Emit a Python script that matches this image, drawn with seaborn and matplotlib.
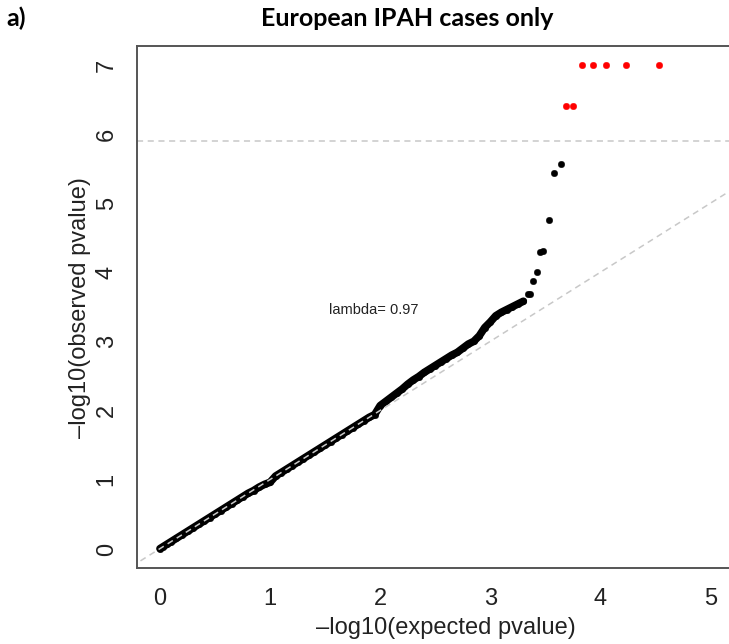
import matplotlib
matplotlib.use("Agg")
import matplotlib.pyplot as plt
import seaborn as sns
import numpy as np
import pandas as pd

# QQ plot values (expected vs observed -log10 p)
expected = [0.00, 0.03, 0.06, 0.10, 0.15, 0.20, 0.25, 0.30, 0.35, 0.40,
            0.45, 0.50, 0.55, 0.60, 0.65, 0.70, 0.75, 0.80, 0.85, 0.90,
            0.95, 1.00, 1.05, 1.10, 1.15, 1.20, 1.25, 1.30, 1.35, 1.40,
            1.45, 1.50, 1.55, 1.60, 1.65, 1.70, 1.75, 1.80, 1.85, 1.90,
            1.95, 2.00, 2.05, 2.10, 2.15, 2.20, 2.25, 2.30, 2.35, 2.40,
            2.45, 2.50, 2.55, 2.60, 2.65, 2.70, 2.75, 2.80, 2.85, 2.90,
            2.95, 3.00, 3.05, 3.10, 3.15, 3.20, 3.25, 3.30, 3.34, 3.36,
            3.39, 3.42, 3.45, 3.48, 3.53, 3.58, 3.64]
observed = [0.00, 0.03, 0.06, 0.10, 0.15, 0.20, 0.25, 0.30, 0.35, 0.40,
            0.45, 0.50, 0.55, 0.60, 0.65, 0.70, 0.75, 0.80, 0.84, 0.89,
            0.93, 0.96, 1.05, 1.10, 1.15, 1.20, 1.25, 1.30, 1.35, 1.40,
            1.45, 1.50, 1.55, 1.60, 1.65, 1.70, 1.75, 1.80, 1.85, 1.90,
            1.94, 2.07, 2.13, 2.19, 2.25, 2.31, 2.38, 2.44, 2.49, 2.55,
            2.60, 2.65, 2.70, 2.75, 2.80, 2.84, 2.90, 2.96, 3.00, 3.08,
            3.20, 3.28, 3.37, 3.42, 3.46, 3.50, 3.54, 3.58, 3.68, 3.68,
            3.87, 4.01, 4.29, 4.31, 4.75, 5.44, 5.565]

# significant hits (red)
sig_expected = [3.69, 3.75, 3.83, 3.93, 4.05, 4.23, 4.53]
sig_observed = [6.4, 6.4, 7.0, 7.0, 7.0, 7.0, 7.0]

threshold = 5.9
lam = 0.97
ticks = [0, 1, 2, 3, 4, 5, 6, 7]

df = pd.DataFrame({'exp': expected, 'obs': observed})
dense = df[df['exp'] <= 3.3]
sig = pd.DataFrame({'exp': sig_expected, 'obs': sig_observed})

sns.set_style("white")
plt.rcParams['font.family'] = ['Liberation Sans', 'DejaVu Sans']

W, H = 729, 644
fig = plt.figure(figsize=((W + 0.4) / 100, (H + 0.4) / 100), dpi=100)
ax = fig.add_axes([137/W, (H-568)/H, (755-137)/W, (568-46)/H])

ax.set_xlim(-0.208, 5.408)
ax.set_ylim(-0.28, 7.28)

# reference lines (diagonal sits on top of the dense band, as in R)
ax.plot([-1, 8], [-1, 8], color='#c8c8c8', lw=1.1, ls=(0, (4, 3)), zorder=4)
ax.axhline(threshold, color='#c8c8c8', lw=1.1, ls=(0, (4, 3)), zorder=1)

# dense part drawn as a thick band plus the points
sns.lineplot(data=dense, x='exp', y='obs', color='black', lw=5.5,
             sort=False, ax=ax, zorder=2)
sns.scatterplot(data=df, x='exp', y='obs', color='black', s=22,
                edgecolor='black', linewidth=0.3, ax=ax, zorder=3)
sns.scatterplot(data=sig, x='exp', y='obs', color='red', s=22,
                edgecolor='red', linewidth=0.3, ax=ax, zorder=3)

ax.text(1.94, 3.46, 'lambda= ' + str(lam), fontsize=10.5, ha='center',
        va='center', color='#222222')

ax.set_xticks(ticks[:6])
ax.set_yticks(ticks)
ax.tick_params(axis='both', direction='out', length=7, width=1.1,
               color='#555555', labelsize=17, labelcolor='#222222')
ax.tick_params(axis='x', pad=7)
ax.tick_params(axis='y', pad=7)
for lab in ax.get_yticklabels():
    lab.set_rotation(90)
    lab.set_va('center')

ax.set_xlabel('\u2013log10(expected pvalue)', fontsize=17, color='#222222',
              labelpad=5)
ax.set_ylabel('\u2013log10(observed pvalue)', fontsize=17, color='#222222',
              labelpad=3)

for s in ax.spines.values():
    s.set_color('#555555')
    s.set_linewidth(1.4)
ax.spines['right'].set_visible(False)

fig.text(407/W, 1 - 18/H, 'European IPAH cases only', fontsize=18,
         fontweight='bold', family=['Lato', 'DejaVu Sans'], ha='center',
         va='center', color='black')
fig.text(6/W, 1 - 18/H, 'a)', fontsize=18, fontweight='bold',
         family=['Lato', 'DejaVu Sans'], ha='left', va='center',
         color='black')

fig.savefig('out.png', dpi=100)
